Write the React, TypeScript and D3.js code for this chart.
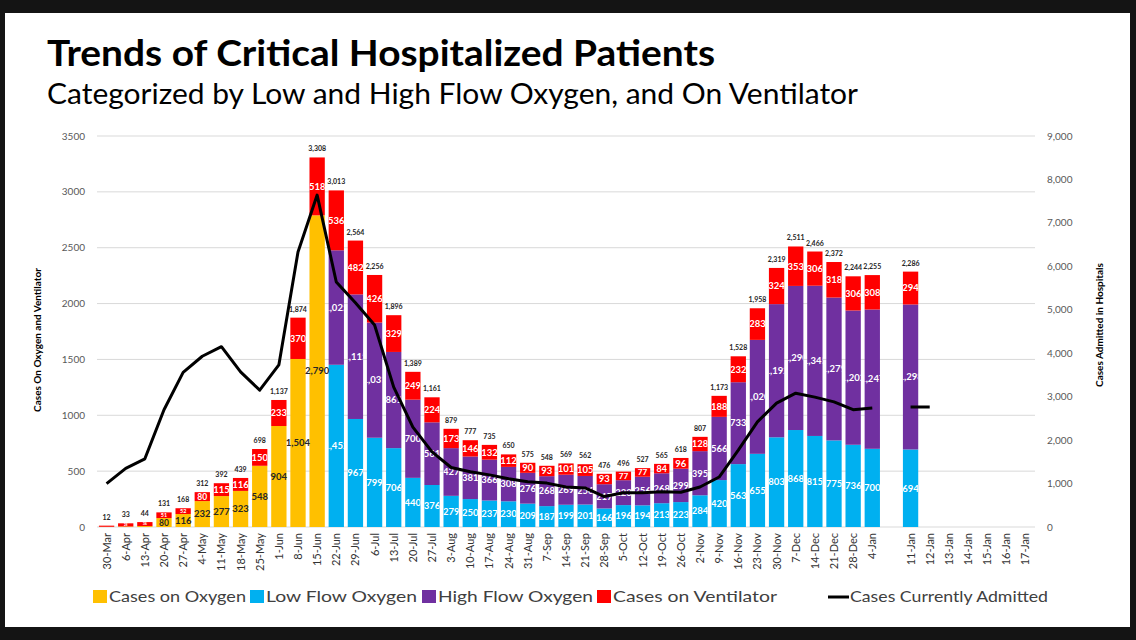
import React from "react";
import * as d3 from "d3";

const categories = ["30-Mar","6-Apr","13-Apr","20-Apr","27-Apr","4-May","11-May","18-May","25-May","1-Jun","8-Jun","15-Jun","22-Jun","29-Jun","6-Jul","13-Jul","20-Jul","27-Jul","3-Aug","10-Aug","17-Aug","24-Aug","31-Aug","7-Sep","14-Sep","21-Sep","28-Sep","5-Oct","12-Oct","19-Oct","26-Oct","2-Nov","9-Nov","16-Nov","23-Nov","30-Nov","7-Dec","14-Dec","21-Dec","28-Dec","4-Jan"," ","11-Jan","12-Jan","13-Jan","14-Jan","15-Jan","16-Jan","17-Jan"];

const oxygen = [2,5,8,80,116,232,277,323,548,904,1504,2790,0,0,0,0,0,0,0,0,0,0,0,0,0,0,0,0,0,0,0,0,0,0,0,0,0,0,0,0,0,0,0,0,0,0,0,0,0];
const lowFlow = [0,0,0,0,0,0,0,0,0,0,0,0,1452,967,799,706,440,376,279,250,237,230,209,187,199,201,166,196,194,213,223,284,420,563,655,803,868,815,775,736,700,0,694,0,0,0,0,0,0];
const highFlow = [0,0,0,0,0,0,0,0,0,0,0,0,1025,1115,1031,861,700,561,427,381,366,308,276,268,269,256,217,223,256,268,299,395,566,733,1020,1192,1290,1345,1279,1202,1247,0,1298,0,0,0,0,0,0];
const ventilator = [10,28,36,51,52,80,115,116,150,233,370,518,536,482,426,329,249,224,173,146,132,112,90,93,101,105,93,77,77,84,96,128,188,232,283,324,353,306,318,306,308,0,294,0,0,0,0,0,0];
const totals = [12,33,44,131,168,312,392,439,698,1137,1874,3308,3013,2564,2256,1896,1389,1161,879,777,735,650,575,548,569,562,476,496,527,565,618,807,1173,1528,1958,2319,2511,2466,2372,2244,2255,null,2286,null,null,null,null,null,null];
const admitted = [1000,1350,1570,2700,3560,3930,4150,3570,3150,3730,6330,7640,5640,5160,4650,3220,2300,1730,1370,1270,1200,1110,1040,1010,920,900,700,790,790,810,800,920,1150,1770,2420,2850,3080,2990,2880,2700,2740,null,2760,2760,null,null,null,null,null];

const leftTicks = [0,500,1000,1500,2000,2500,3000,3500];
const rightTicks = [0,1000,2000,3000,4000,5000,6000,7000,8000,9000];

const seriesKeys = ["oxygen","lowFlow","highFlow","ventilator"];
const seriesValues: Record<string, number[]> = { oxygen, lowFlow, highFlow, ventilator };
const colors: Record<string, string> = { oxygen: "#FFC000", lowFlow: "#00B0F0", highFlow: "#7030A0", ventilator: "#FF0000" };
const legendItems = [
  { key: "oxygen", label: "Cases on Oxygen", x: 93, tx: 109, tw: 137 },
  { key: "lowFlow", label: "Low Flow Oxygen", x: 250, tx: 266, tw: 151 },
  { key: "highFlow", label: "High Flow Oxygen", x: 422, tx: 438, tw: 155 },
  { key: "ventilator", label: "Cases on Ventilator", x: 597, tx: 613, tw: 164 },
];

const FONT = "Lato, 'Open Sans', sans-serif";
const fmt = d3.format(",");

export default function App() {
  const x = d3.scaleBand<string>().domain(categories).range([97, 1035]).paddingInner(0.2).paddingOuter(0.1);
  const yL = d3.scaleLinear().domain([0, 3500]).range([527, 136]);
  const yR = d3.scaleLinear().domain([0, 9000]).range([527, 136]);
  const bw = x.bandwidth();

  const rows = categories.map((c, i) => {
    const r: any = { cat: c };
    seriesKeys.forEach(k => (r[k] = seriesValues[k][i]));
    return r;
  });
  const stacked = d3.stack<any>().keys(seriesKeys)(rows);

  const line = d3.line<number | null>()
    .defined(d => d != null)
    .x((_, i) => (x(categories[i]) as number) + bw / 2)
    .y(d => yR(d as number));

  return (
    <svg width={1136} height={640} style={{ position: "absolute", left: 0, top: 0, background: "#fff" }} fontFamily={FONT}>
      <defs>
        {categories.map((c, i) => (
          <clipPath id={`clip${i}`} key={i}>
            <rect x={x(c)} y={0} width={bw} height={640} />
          </clipPath>
        ))}
      </defs>
      <rect x={0} y={0} width={1136} height={640} fill="#fff" />
      {/* frame */}
      <rect x={0} y={0} width={1136} height={13} fill="#141414" />
      <rect x={0} y={0} width={5} height={640} fill="#141414" />
      <rect x={1130} y={0} width={6} height={640} fill="#141414" />
      <rect x={0} y={627} width={1136} height={13} fill="#141414" />

      <text x={47} y={66} fontSize={36} fontWeight={700} fill="#000" textLength={668} lengthAdjust="spacingAndGlyphs">Trends of Critical Hospitalized Patients</text>
      <text x={47} y={104} fontSize={28} fill="#000" textLength={811} lengthAdjust="spacingAndGlyphs">Categorized by Low and High Flow Oxygen, and On Ventilator</text>

      {/* gridlines */}
      {leftTicks.map(t => (
        <line key={t} x1={97} x2={1035} y1={yL(t)} y2={yL(t)} stroke="#d9d9d9" strokeWidth={1} />
      ))}
      {leftTicks.map(t => (
        <text key={t} x={85} y={yL(t) + 3.5} fontSize={10} fill="#595959" textAnchor="end">{t}</text>
      ))}
      {rightTicks.map(t => (
        <text key={t} x={1047} y={yR(t) + 3.5} fontSize={10} fill="#595959" textAnchor="start">{fmt(t)}</text>
      ))}
      <text transform={`translate(41,340) rotate(-90)`} fontSize={10} fontWeight={700} fill="#000" textAnchor="middle">Cases On Oxygen and Ventilator</text>
      <text transform={`translate(1103,325) rotate(-90)`} fontSize={10} fontWeight={700} fill="#000" textAnchor="middle">Cases Admitted in Hospitals</text>

      {/* bars */}
      {stacked.map(s => (
        <g key={s.key}>
          {s.map((d, i) => {
            const v = d[1] - d[0];
            if (!v) return null;
            return <rect key={i} x={x(categories[i])} y={yL(d[1])} width={bw} height={yL(d[0]) - yL(d[1])} fill={colors[s.key]} />;
          })}
        </g>
      ))}
      {/* segment labels */}
      {stacked.map(s => (
        <g key={"l" + s.key}>
          {s.map((d, i) => {
            const v = d[1] - d[0];
            if (!v) return null;
            const h = yL(d[0]) - yL(d[1]);
            if (h < 3) return null;
            const fs = Math.min(9.5, h * 0.95);
            const cx = (x(categories[i]) as number) + bw / 2;
            const cy = (yL(d[0]) + yL(d[1])) / 2;
            const isOx = s.key === "oxygen";
            return (
              <text key={i} x={cx} y={cy + fs * 0.35} fontSize={fs} fontWeight={700} textAnchor="middle"
                fill={isOx ? "#262626" : "#fff"} clipPath={isOx ? undefined : `url(#clip${i})`}>{fmt(v)}</text>
            );
          })}
        </g>
      ))}
      {/* totals */}
      {totals.map((t, i) => t == null ? null : (
        <text key={i} x={(x(categories[i]) as number) + bw / 2} y={yL(t) - 6} fontSize={7} fontWeight={700} fill="#262626" textAnchor="middle">{fmt(t)}</text>
      ))}

      {/* line */}
      <path d={line(admitted) || ""} fill="none" stroke="#000" strokeWidth={3} strokeLinejoin="round" />

      {/* x labels */}
      {categories.map((c, i) => (
        <text key={i} transform={`translate(${(x(c) as number) + bw / 2 + 4},533) rotate(-90)`} fontSize={11} fill="#333" textAnchor="end">{c.trim()}</text>
      ))}

      {/* legend */}
      {legendItems.map(l => (
        <g key={l.key}>
          <rect x={l.x} y={590} width={14} height={13} fill={colors[l.key]} />
          <text x={l.tx} y={602} fontSize={16} fill="#404040" textLength={l.tw} lengthAdjust="spacingAndGlyphs">{l.label}</text>
        </g>
      ))}
      <line x1={828} x2={849} y1={597} y2={597} stroke="#000" strokeWidth={3} />
      <text x={850} y={602} fontSize={16} fill="#404040" textLength={198} lengthAdjust="spacingAndGlyphs">Cases Currently Admitted</text>
    </svg>
  );
}
